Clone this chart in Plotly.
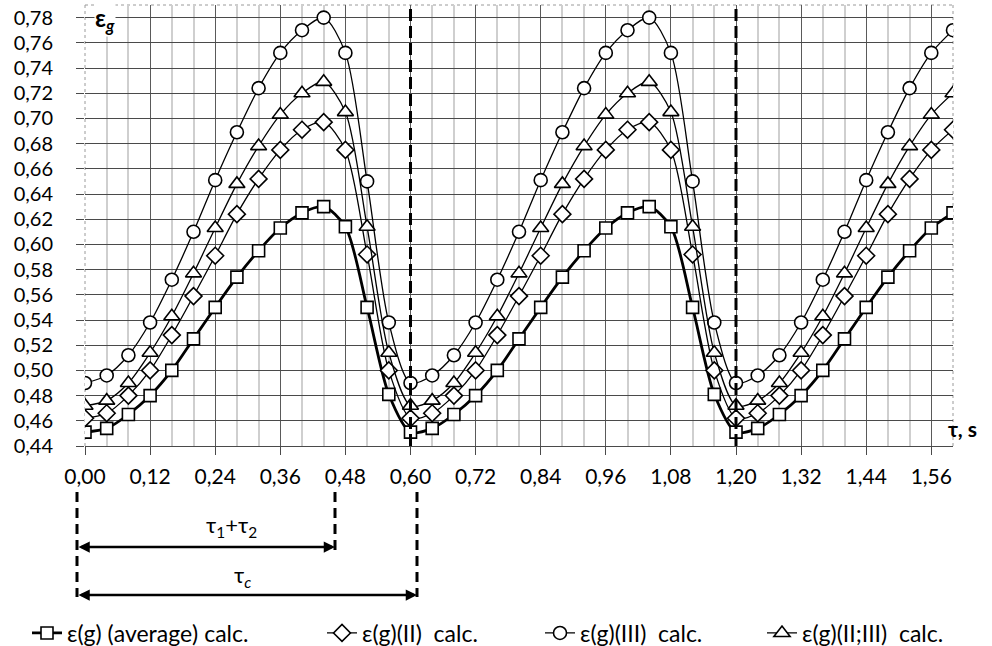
import plotly.graph_objects as go

# ---- data ----
tau = [0.00, 0.04, 0.08, 0.12, 0.16, 0.20, 0.24, 0.28, 0.32, 0.36, 0.40, 0.44, 0.48, 0.52, 0.56,
       0.60, 0.64, 0.68, 0.72, 0.76, 0.80, 0.84, 0.88, 0.92, 0.96, 1.00, 1.04, 1.08, 1.12, 1.16,
       1.20, 1.24, 1.28, 1.32, 1.36, 1.40, 1.44, 1.48, 1.52, 1.56, 1.60]

eps_avg = [0.451, 0.454, 0.465, 0.480, 0.500, 0.525, 0.550, 0.574, 0.595, 0.613, 0.625, 0.630, 0.614, 0.550, 0.481,
           0.451, 0.454, 0.465, 0.480, 0.500, 0.525, 0.550, 0.574, 0.595, 0.613, 0.625, 0.630, 0.614, 0.550, 0.481,
           0.451, 0.454, 0.465, 0.480, 0.500, 0.525, 0.550, 0.574, 0.595, 0.613, 0.625]

eps_II = [0.462, 0.466, 0.480, 0.500, 0.528, 0.559, 0.591, 0.624, 0.652, 0.675, 0.691, 0.697, 0.675, 0.592, 0.500,
          0.462, 0.466, 0.480, 0.500, 0.528, 0.559, 0.591, 0.624, 0.652, 0.675, 0.691, 0.697, 0.675, 0.592, 0.500,
          0.462, 0.466, 0.480, 0.500, 0.528, 0.559, 0.591, 0.624, 0.652, 0.675, 0.691]

eps_III = [0.490, 0.496, 0.512, 0.538, 0.572, 0.610, 0.651, 0.689, 0.724, 0.752, 0.770, 0.780, 0.752, 0.650, 0.538,
           0.490, 0.496, 0.512, 0.538, 0.572, 0.610, 0.651, 0.689, 0.724, 0.752, 0.770, 0.780, 0.752, 0.650, 0.538,
           0.490, 0.496, 0.512, 0.538, 0.572, 0.610, 0.651, 0.689, 0.724, 0.752, 0.770]

eps_II_III = [0.472, 0.476, 0.490, 0.514, 0.543, 0.577, 0.613, 0.648, 0.678, 0.703, 0.720, 0.729, 0.705, 0.614, 0.514,
              0.472, 0.476, 0.490, 0.514, 0.543, 0.577, 0.613, 0.648, 0.678, 0.703, 0.720, 0.729, 0.705, 0.614, 0.514,
              0.472, 0.476, 0.490, 0.514, 0.543, 0.577, 0.613, 0.648, 0.678, 0.703, 0.720]

series_names = ["ε(g) (average) calc.", "ε(g)(II)\u00a0\u00a0calc.", "ε(g)(III)\u00a0\u00a0calc.", "ε(g)(II;III)\u00a0\u00a0calc."]
cycle_marks = [0.60, 1.20]

# ---- layout geometry (pixels) ----
W, H = 992, 646
L, R, T, B = 85, 39, 5, 200
PW, PH = W - L - R, H - T - B


def px(xp):
    return (xp - L) / PW


def py(yp):
    return (H - B - yp) / PH


FONT = "Lato"

fig = go.Figure()

styles = [
    (eps_avg, "square", 12, 2.8, "legend"),
    (eps_II, "diamond", 13, 1.3, "legend2"),
    (eps_III, "circle", 13, 1.3, "legend3"),
    (eps_II_III, "triangle-up", 14, 1.3, "legend4"),
]
for (vals, sym, size, lw, lg), name in zip(styles, series_names):
    fig.add_trace(go.Scatter(
        x=tau, y=vals, name=name, mode="lines+markers", legend=lg,
        line=dict(color="black", width=lw, shape="spline", smoothing=0.8),
        marker=dict(symbol=sym, size=size, color="white", line=dict(color="black", width=1.6)),
    ))

shapes = []
for xv in cycle_marks:
    shapes.append(dict(type="line", xref="x", yref="y", x0=xv, x1=xv, y0=0.44, y1=0.79,
                       line=dict(color="black", width=3, dash="12px,5px"), layer="above"))
# dotted chart border (left, top, right)
for (x0, y0, x1, y1) in [(0, 0, 0, 1), (0, 1, 1, 1), (1, 0, 1, 1)]:
    shapes.append(dict(type="line", xref="paper", yref="paper", x0=x0, y0=y0, x1=x1, y1=y1,
                       line=dict(color="#9a9a9a", width=1, dash="dot"), layer="below"))
# bracket lines under the axis
for (xp_, y0p, y1p) in [(77, 492, 597), (335, 492, 552), (417, 492, 597)]:
    shapes.append(dict(type="line", xref="paper", yref="paper", x0=px(xp_), x1=px(xp_),
                       y0=py(y0p), y1=py(y1p), line=dict(color="black", width=3, dash="10px,6px")))

annotations = [
    dict(xref="paper", yref="paper", x=px(94), y=py(19), xanchor="left", yanchor="middle",
         text="<b>ε<sub><i>g</i></sub></b>", showarrow=False, font=dict(size=24, color="black", family=FONT),
         bgcolor="white", borderpad=0),
    dict(xref="paper", yref="paper", x=px(946), y=py(428), xanchor="left", yanchor="middle",
         text="<b>τ, s</b>", showarrow=False, font=dict(size=21, color="black", family=FONT)),
    dict(xref="paper", yref="paper", x=px(231), y=py(526), xanchor="center", yanchor="middle",
         text="τ<sub>1</sub>+τ<sub>2</sub>", showarrow=False, font=dict(size=22, color="black", family=FONT)),
    dict(xref="paper", yref="paper", x=px(242), y=py(576), xanchor="center", yanchor="middle",
         text="τ<sub><i>c</i></sub>", showarrow=False, font=dict(size=22, color="black", family=FONT)),
]
for (xa, xb, yy) in [(77, 335, 547), (77, 417, 595)]:
    annotations.append(dict(xref="paper", yref="paper", axref="pixel", ayref="pixel",
                            x=px(xb), y=py(yy), ax=-(xb - xa), ay=0, text="",
                            showarrow=True, arrowhead=2, startarrowhead=2, arrowside="end+start",
                            arrowwidth=2.5, arrowsize=0.9, startarrowsize=0.9, arrowcolor="black"))

legend_starts = [27, 322, 540, 762]
legend_common = dict(orientation="h", y=py(633), xanchor="left", yanchor="middle",
                     font=dict(size=23, family=FONT, color="black"), itemwidth=30,
                     bgcolor="rgba(0,0,0,0)", borderwidth=0)

fig.update_layout(
    width=W, height=H,
    margin=dict(l=L, r=R, t=T, b=B, autoexpand=False),
    paper_bgcolor="white", plot_bgcolor="white",
    separators=",.",
    font=dict(family=FONT, color="black"),
    showlegend=True,
    legend=dict(x=px(legend_starts[0]), **legend_common),
    legend2=dict(x=px(legend_starts[1]), **legend_common),
    legend3=dict(x=px(legend_starts[2]), **legend_common),
    legend4=dict(x=px(legend_starts[3]), **legend_common),
    shapes=shapes,
    annotations=annotations,
    xaxis=dict(range=[0, 1.60], tick0=0, dtick=0.12, tickformat=".2f", automargin=False,
               showgrid=True, gridcolor="#5a5a5a", gridwidth=1.3,
               minor=dict(dtick=0.04, tick0=0, showgrid=True, gridcolor="#cfcfcf", gridwidth=1.6),
               showline=True, linecolor="#4a4a4a", linewidth=1.3,
               ticks="outside", ticklen=8, tickcolor="#4a4a4a", tickwidth=1.3,
               ticklabelstandoff=4,
               tickfont=dict(size=21, family=FONT, color="black"), zeroline=False),
    yaxis=dict(range=[0.44, 0.79], tick0=0.44, dtick=0.02, tickformat=".2f", automargin=False,
               showgrid=True, gridcolor="#4a4a4a", gridwidth=1.3,
               showline=False, ticks="outside", ticklen=8, tickcolor="#4a4a4a", tickwidth=1.3,
               ticklabelstandoff=19,
               tickfont=dict(size=20, family=FONT, color="black"), zeroline=False),
)

fig.write_html("out.html", config={"displayModeBar": False},
               post_script="document.body.style.margin='0';document.body.style.overflow='hidden';")
